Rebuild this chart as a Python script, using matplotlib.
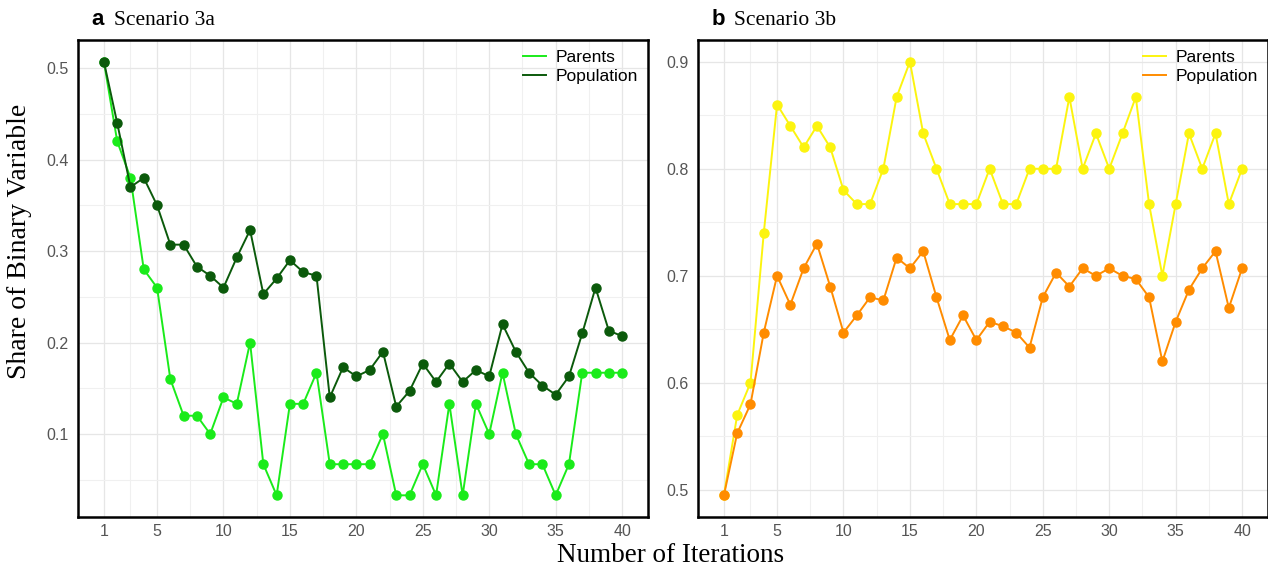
import numpy as np
import matplotlib
matplotlib.use("Agg")
import matplotlib.pyplot as plt
from matplotlib.ticker import FixedLocator, MultipleLocator

iterations = list(range(1, 41))
tick_pos = [1, 5, 10, 15, 20, 25, 30, 35, 40]

# Scenario 3a
parents_a = [0.507, 0.42, 0.38, 0.28, 0.26, 0.16, 0.12, 0.12, 0.10, 0.14,
             0.133, 0.20, 0.067, 0.033, 0.133, 0.133, 0.167, 0.067, 0.067, 0.067,
             0.067, 0.10, 0.033, 0.033, 0.067, 0.033, 0.133, 0.033, 0.133, 0.10,
             0.167, 0.10, 0.067, 0.067, 0.033, 0.067, 0.167, 0.167, 0.167, 0.167]
population_a = [0.507, 0.44, 0.37, 0.38, 0.35, 0.307, 0.307, 0.283, 0.273, 0.26,
                0.293, 0.323, 0.253, 0.27, 0.29, 0.277, 0.273, 0.14, 0.173, 0.163,
                0.17, 0.19, 0.13, 0.147, 0.177, 0.157, 0.177, 0.157, 0.17, 0.163,
                0.22, 0.19, 0.167, 0.153, 0.143, 0.163, 0.21, 0.26, 0.213, 0.207]

# Scenario 3b
parents_b = [0.495, 0.57, 0.60, 0.74, 0.86, 0.84, 0.82, 0.84, 0.82, 0.78,
             0.767, 0.767, 0.80, 0.867, 0.90, 0.833, 0.80, 0.767, 0.767, 0.767,
             0.80, 0.767, 0.767, 0.80, 0.80, 0.80, 0.867, 0.80, 0.833, 0.80,
             0.833, 0.867, 0.767, 0.70, 0.767, 0.833, 0.80, 0.833, 0.767, 0.80]
population_b = [0.495, 0.553, 0.58, 0.647, 0.70, 0.673, 0.707, 0.73, 0.69, 0.647,
                0.663, 0.68, 0.677, 0.717, 0.707, 0.723, 0.68, 0.64, 0.663, 0.64,
                0.657, 0.653, 0.647, 0.633, 0.68, 0.703, 0.69, 0.707, 0.70, 0.707,
                0.70, 0.697, 0.68, 0.62, 0.657, 0.687, 0.707, 0.723, 0.67, 0.707]

W, H = 1268, 568
fig = plt.figure(figsize=(W / 100, H / 100), dpi=100)
serif = "Liberation Serif"
sans = "Liberation Sans"


def panel(rect, par, pop, c_par, c_pop, letter, title, yticks):
    ax = fig.add_axes(rect)
    ax.plot(iterations, par, color=c_par, lw=1.4, marker="o", ms=6.5, label="Parents", zorder=3)
    ax.plot(iterations, pop, color=c_pop, lw=1.4, marker="o", ms=6.5, label="Population", zorder=3)
    lo = min(min(par), min(pop))
    hi = max(max(par), max(pop))
    pad = (hi - lo) * 0.05
    ax.set_ylim(lo - pad, hi + pad)
    ax.set_xlim(1 - 39 * 0.05, 40 + 39 * 0.05)
    ax.xaxis.set_major_locator(FixedLocator(tick_pos))
    ax.xaxis.set_minor_locator(FixedLocator([3, 7.5, 12.5, 17.5, 22.5, 27.5, 32.5, 37.5]))
    ax.yaxis.set_major_locator(FixedLocator(yticks))
    ax.yaxis.set_minor_locator(MultipleLocator(0.05))
    ax.grid(which="major", color="#e6e6e6", lw=0.9)
    ax.grid(which="minor", color="#f0f0f0", lw=0.8)
    ax.set_axisbelow(True)
    ax.tick_params(which="both", length=0, labelsize=11.5, labelcolor="#555555")
    ax.tick_params(axis="y", pad=7)
    ax.tick_params(axis="x", pad=5)
    ax.tick_params(which="minor", labelleft=False, labelbottom=False)
    for lab in ax.get_xticklabels() + ax.get_yticklabels():
        lab.set_fontfamily(sans)
    for s in ax.spines.values():
        s.set_color("black")
        s.set_linewidth(1.8)
    leg = ax.legend(loc="upper right", frameon=False, prop={"family": sans, "size": 12.5},
                    handlelength=1.3, handletextpad=0.6, labelspacing=0.25,
                    borderaxespad=0.15)
    for h in leg.legend_handles:
        h.set_marker("")
    ax.text(0.024, 1.02, letter, transform=ax.transAxes, fontsize=16,
            fontweight="bold", family=sans, va="bottom")
    ax.text(0.064, 1.02, title, transform=ax.transAxes, fontsize=15.5,
            family=serif, va="bottom")
    return ax


ax1 = panel([78 / W, 1 - 517 / H, 570 / W, 477 / H], parents_a, population_a,
            "#1aeb1a", "#0b5a0b", "a", "Scenario 3a", [0.1, 0.2, 0.3, 0.4, 0.5])
ax2 = panel([698 / W, 1 - 517 / H, 570 / W, 477 / H], parents_b, population_b,
            "#fcf40f", "#ff8c00", "b", "Scenario 3b", [0.5, 0.6, 0.7, 0.8, 0.9])

fig.text(20 / W, 1 - 241 / H, "Share of Binary Variable", rotation=90,
         family=serif, fontsize=20, ha="center", va="center")
fig.text(671 / W, 1 - 556 / H, "Number of Iterations",
         family=serif, fontsize=19.5, ha="center", va="center")

fig.savefig("out.png", dpi=100)
